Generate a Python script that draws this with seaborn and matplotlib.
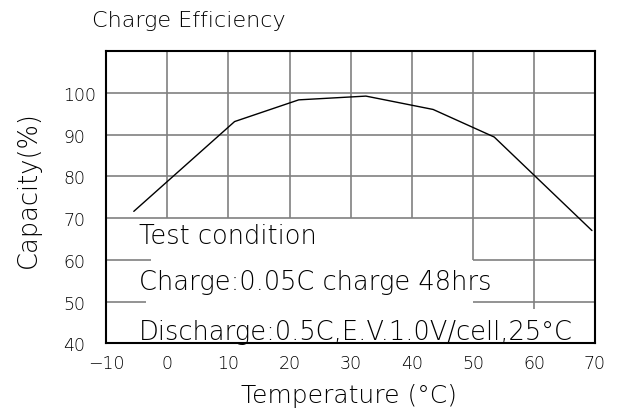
import matplotlib
matplotlib.use("Agg")
import matplotlib.pyplot as plt
import seaborn as sns
import pandas as pd

# Data
temperature = [-5.5, 11.0, 21.5, 32.5, 43.5, 53.5, 69.5]
capacity = [71.6, 93.1, 98.3, 99.2, 96.0, 89.4, 67.0]
x_ticks = [-10, 0, 10, 20, 30, 40, 50, 60, 70]
y_ticks = [40, 50, 60, 70, 80, 90, 100]
title = "Charge Efficiency"
x_label = "Temperature (°C)"
y_label = "Capacity(%)"
notes = ["Test condition", "Charge:0.05C charge 48hrs",
         "Discharge:0.5C,E.V.1.0V/cell,25°C"]

sns.set_style("white")
plt.rcParams['font.family'] = ['DejaVu Sans']

df = pd.DataFrame({"Temperature": temperature, "Capacity": capacity})

fig = plt.figure(figsize=(6.19, 4.10), dpi=100)
ax = fig.add_axes([106.3 / 619, 1 - 344.3 / 410, (595 - 106.3) / 619, (344.3 - 52) / 410])

grid_kw = dict(color="#808080", linewidth=1.2, zorder=1)
# vertical grid segments (upper part of the CAD drawing)
ax.vlines([0, 10, 20, 30, 40, 50, 60], 70, 110, **grid_kw)
ax.vlines([50], 60, 70, **grid_kw)
ax.vlines([60], 48.2, 70, **grid_kw)
# horizontal grid segments
ax.hlines([70, 80, 90, 100], -10, 70, **grid_kw)
ax.hlines([60], -10, -2.7, **grid_kw)
ax.hlines([50], -10, -3.5, **grid_kw)
ax.hlines([60, 50], 50, 70, **grid_kw)

sns.lineplot(data=df, x="Temperature", y="Capacity", ax=ax, color="black",
             linewidth=1.0, zorder=3)

ax.set_xlim(-10, 70)
ax.set_ylim(40, 110)
ax.set_xticks(x_ticks)
ax.set_yticks(y_ticks)
ax.tick_params(length=0, labelsize=12.5, labelcolor="black")
ax.tick_params(axis='y', pad=31)
for lab in ax.get_yticklabels():
    lab.set_horizontalalignment('left')
    lab.set_fontweight('light')
for lab in ax.get_xticklabels():
    lab.set_fontweight('light')
ax.tick_params(axis='x', pad=8)

for s in ax.spines.values():
    s.set_color("black")
    s.set_linewidth(1.5)
    s.set_visible(True)

ax.set_xlabel("")
ax.set_ylabel("")
txt_kw = dict(color="black", fontweight="light")
fig.text(349 / 619, 1 - 396 / 410, x_label, ha="center", va="center", fontsize=18, **txt_kw)
fig.text(28 / 619, 1 - 190 / 410, y_label, ha="center", va="center", fontsize=18.5,
         rotation=90, **txt_kw)
fig.text(92 / 619, 1 - 21 / 410, title, ha="left", va="center", fontsize=16, **txt_kw)

for yf, t in zip([0.370, 0.213, 0.042], notes):
    ax.text(0.067, yf, t, transform=ax.transAxes, ha="left", va="center",
            fontsize=18.5, **txt_kw)

fig.savefig("out.png", dpi=100)
